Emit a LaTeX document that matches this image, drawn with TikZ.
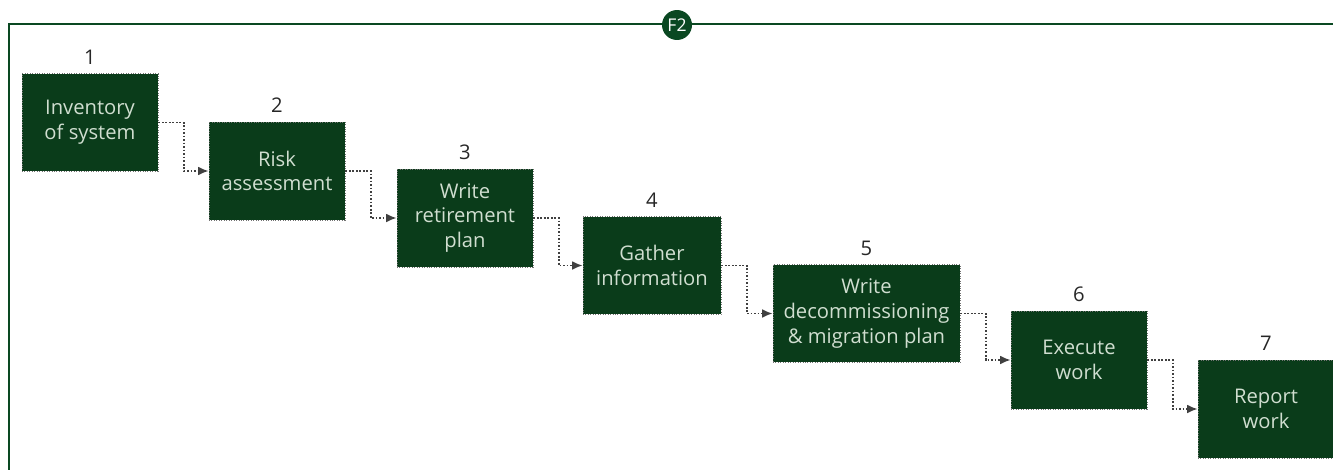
\documentclass[tikz,border=0pt]{standalone}
\definecolor{main}{RGB}{10,72,34}
\definecolor{boxfill}{RGB}{10,60,26}
\definecolor{boxtext}{RGB}{208,222,208}
\usepackage{fontspec}
\setmainfont{Open Sans}
\usepackage{tikz}
\usetikzlibrary{
	arrows.meta,
	positioning
}
\tikzset{
  % frame
	cstframe/.style   ={line width=1.3pt, main},
	csttag/.style     ={circle, fill=main, text=white, inner sep=0pt, minimum size=0.6cm, font=\fontsize{10}{11}\selectfont},
  % arrow
	cstflow/.style    ={-{Latex[length=6pt,width=5pt]}, black!75, densely dotted, line width=1pt},
  % node
	cstbox/.style     ={fill=boxfill, draw=black!55, densely dotted, text=boxtext, align=center,
	                    minimum width=2.72cm, minimum height=1.96cm, inner sep=2pt,
	                    font=\fontsize{11.5}{14}\selectfont},
	cstnum/.style     ={text=black!85, inner sep=2pt, font=\fontsize{11.5}{13}\selectfont}
}
\begin{document}
\begin{tikzpicture}[x=0.02cm, y=-0.02cm]
				\useasboundingbox (0,0) rectangle (1333,470);
				\draw[cstframe] (9,470)--(9,24)--(1333,24);
				\node[csttag] (tag) at (677,25) {F2};
				% steps
				\node[cstbox] (inv) at (90,122.5) {Inventory\\of system};
				\node[cstbox] (risk) at (277,171) {Risk\\assessment};
				\node[cstbox] (plan) at (465,218) {Write\\retirement\\plan};
				\node[cstbox, minimum width=2.76cm] (info) at (652,265.5) {Gather\\information};
				\node[cstbox, minimum width=3.74cm] (mig) at (866.5,313.5) {Write\\decommissioning\\\& migration plan};
				\node[cstbox] (exec) at (1079,360) {Execute\\work};
				\node[cstbox] (rep) at (1266,409) {Report\\work};
				% numbers
				\node[cstnum, above=0.1cm of inv] (n1) {1};
				\node[cstnum, above=0.1cm of risk] (n2) {2};
				\node[cstnum, above=0.1cm of plan] (n3) {3};
				\node[cstnum, above=0.1cm of info] (n4) {4};
				\node[cstnum, above=0.1cm of mig] (n5) {5};
				\node[cstnum, above=0.1cm of exec] (n6) {6};
				\node[cstnum, above=0.1cm of rep] (n7) {7};
				% links
				\draw[cstflow] (inv.east) -- ++(25.5,0) |- (risk.west);
				\draw[cstflow] (risk.east) -- ++(25.5,0) |- (plan.west);
				\draw[cstflow] (plan.east) -- ++(25.5,0) |- (info.west);
				\draw[cstflow] (info.east) -- ++(25.5,0) |- (mig.west);
				\draw[cstflow] (mig.east) -- ++(25.5,0) |- (exec.west);
				\draw[cstflow] (exec.east) -- ++(25.5,0) |- (rep.west);
			\end{tikzpicture}
\end{document}
